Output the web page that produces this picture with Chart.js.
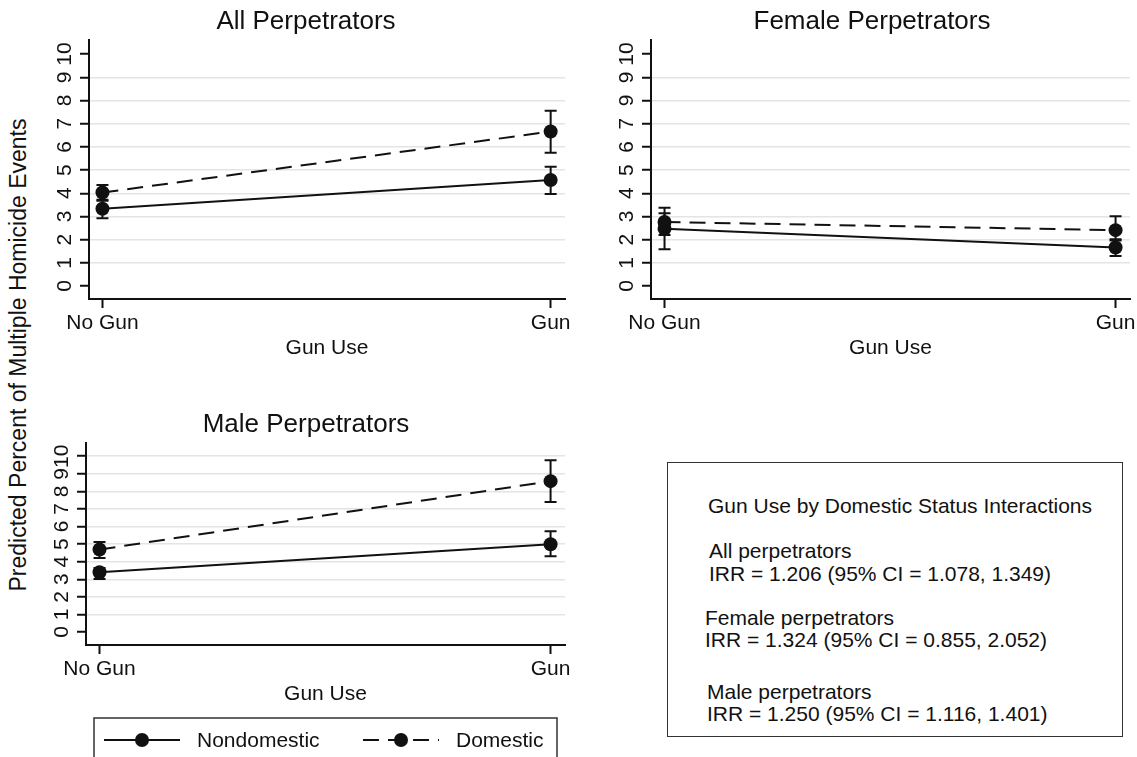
<!DOCTYPE html>
<html>
<head>
<meta charset="utf-8">
<script src="https://cdn.jsdelivr.net/npm/chart.js@4.4.1/dist/chart.umd.min.js"></script>
<style>
  html, body { margin: 0; padding: 0; background: #fff; }
  body { position: relative; width: 1137px; height: 757px; overflow: hidden;
         font-family: "Liberation Sans", Arial, Helvetica, sans-serif; color: #111; }
  canvas { position: absolute; }
  #ytitle { position: absolute; left: 18px; top: 355px; white-space: nowrap; font-size: 23px;
            transform: translate(-50%, -50%) rotate(-90deg); }
  #note { position: absolute; left: 667px; top: 462px; width: 456px; height: 275px;
          border: 1.5px solid #333; box-sizing: border-box; }
  #note div { position: absolute; white-space: nowrap; font-size: 21px; line-height: 24px; }
</style>
</head>
<body>
<canvas id="allChart" width="528" height="361" style="left:47px;top:0px"></canvas>
<canvas id="femaleChart" width="526" height="361" style="left:614px;top:0px"></canvas>
<canvas id="maleChart" width="528" height="360" style="left:47px;top:403px"></canvas>
<div id="ytitle">Predicted Percent of Multiple Homicide Events</div>
<div id="note">
  <div style="left:40px;top:31px">Gun Use by Domestic Status Interactions</div>
  <div style="left:41px;top:76px">All perpetrators</div>
  <div style="left:41px;top:99px">IRR = 1.206 (95% CI = 1.078, 1.349)</div>
  <div style="left:37px;top:143px">Female perpetrators</div>
  <div style="left:37px;top:165px">IRR = 1.324 (95% CI = 0.855, 2.052)</div>
  <div style="left:39px;top:217px">Male perpetrators</div>
  <div style="left:39px;top:239px">IRR = 1.250 (95% CI = 1.116, 1.401)</div>
</div>
<script>
const categories = ['No Gun', 'Gun'];
const yTickValues = [0, 1, 2, 3, 4, 5, 6, 7, 8, 9, 10];
const yTickLabels = ['0', '1', '2', '3', '4', '5', '6', '7', '8', '9', '10'];
const femaleTickLabels = ['0', '1', '2', '3', '4', '5', '6', '7', '9', '9', '10'];

// All perpetrators
const allNondomestic = [3.33, 4.57];
const allNondomesticLow = [2.92, 3.97];
const allNondomesticHigh = [3.72, 5.14];
const allDomestic = [4.03, 6.66];
const allDomesticLow = [3.68, 5.75];
const allDomesticHigh = [4.36, 7.56];

// Female perpetrators
const femaleNondomestic = [2.47, 1.66];
const femaleNondomesticLow = [1.59, 1.29];
const femaleNondomesticHigh = [3.14, 2.02];
const femaleDomestic = [2.76, 2.41];
const femaleDomesticLow = [2.2, 1.96];
const femaleDomesticHigh = [3.37, 3.01];

// Male perpetrators
const maleNondomestic = [3.40, 4.99];
const maleNondomesticLow = [3.02, 4.31];
const maleNondomesticHigh = [3.64, 5.73];
const maleDomestic = [4.69, 8.58];
const maleDomesticLow = [4.21, 7.40];
const maleDomesticHigh = [5.12, 9.77];

const FONT = "'Liberation Sans', Arial, Helvetica, sans-serif";
const INK = '#111';
Chart.defaults.font.family = FONT;
Chart.defaults.color = INK;

function series(label, vals, low, high, dash) {
  return {
    label: label,
    data: vals.map((v, i) => ({ x: i, y: v })),
    errLow: low,
    errHigh: high,
    borderColor: INK,
    borderWidth: 2,
    borderDash: dash,
    pointRadius: 7,
    pointHoverRadius: 7,
    pointBackgroundColor: INK,
    pointBorderWidth: 0,
    fill: false,
    tension: 0
  };
}

// vertical CI bars with caps
const errorBars = {
  id: 'errorBars',
  afterDatasetsDraw(chart) {
    const { ctx, scales: { x, y } } = chart;
    ctx.save();
    ctx.strokeStyle = INK;
    ctx.lineWidth = 2;
    ctx.setLineDash([]);
    chart.data.datasets.forEach(ds => {
      ds.errLow.forEach((lo, i) => {
        const px = x.getPixelForValue(i);
        const yl = y.getPixelForValue(lo);
        const yh = y.getPixelForValue(ds.errHigh[i]);
        ctx.beginPath();
        ctx.moveTo(px, yl); ctx.lineTo(px, yh);
        ctx.moveTo(px - 6, yl); ctx.lineTo(px + 6, yl);
        ctx.moveTo(px - 6, yh); ctx.lineTo(px + 6, yh);
        ctx.stroke();
      });
    });
    ctx.restore();
  }
};

// legend box under the male panel: line + marker + label
const seriesLegend = {
  id: 'seriesLegend',
  afterDraw(chart) {
    const { ctx, chartArea: a } = chart;
    const left = a.left + 8, right = a.right - 8, top = a.bottom + 73;
    const cy = top + 22;
    const starts = [left + 10, left + 269];
    ctx.save();
    ctx.strokeStyle = '#333';
    ctx.lineWidth = 1.5;
    ctx.strokeRect(left, top, right - left, 80);
    ctx.font = '21px ' + FONT;
    ctx.textBaseline = 'middle';
    ctx.fillStyle = INK;
    chart.data.datasets.forEach((ds, i) => {
      const x0 = starts[i];
      ctx.strokeStyle = INK;
      ctx.lineWidth = 2;
      ctx.setLineDash(ds.borderDash || []);
      ctx.beginPath();
      ctx.moveTo(x0, cy);
      ctx.lineTo(x0 + 76, cy);
      ctx.stroke();
      ctx.setLineDash([]);
      ctx.beginPath();
      ctx.arc(x0 + 38, cy, 7, 0, Math.PI * 2);
      ctx.fill();
      ctx.fillText(ds.label, x0 + 93, cy + 1);
    });
    ctx.restore();
  }
};

function panel(id, title, tickLabels, datasets, yMin, yMax, gridTop, yWidth, padBottom, extra) {
  return new Chart(document.getElementById(id), {
    type: 'line',
    data: { datasets: datasets },
    plugins: [errorBars].concat(extra),
    options: {
      responsive: false,
      animation: false,
      events: [],
      layout: { padding: { top: 0, right: 10, bottom: padBottom, left: 0 } },
      plugins: {
        legend: { display: false },
        tooltip: { enabled: false },
        title: {
          display: true, text: title, color: INK,
          font: { size: 26, weight: 'normal' },
          padding: { top: 6, bottom: 3 }
        }
      },
      scales: {
        x: {
          type: 'linear', min: -0.03, max: 1.032,
          afterBuildTicks: s => { s.ticks = categories.map((c, i) => ({ value: i })); },
          afterFit: s => { s.height = 62; s.paddingLeft = 0; s.paddingRight = 0; },
          ticks: {
            callback: v => categories[v], font: { size: 21 }, color: INK,
            padding: 3, autoSkip: false, minRotation: 0, maxRotation: 0
          },
          grid: { drawOnChartArea: false, tickColor: INK, tickLength: 9, tickWidth: 2 },
          border: { color: INK, width: 2 },
          title: { display: true, text: 'Gun Use', font: { size: 21 }, color: INK, padding: 0 }
        },
        y: {
          type: 'linear', min: yMin, max: yMax,
          afterBuildTicks: s => { s.ticks = yTickValues.map(v => ({ value: v })); },
          afterFit: s => { s.width = yWidth; s.paddingTop = 0; s.paddingBottom = 0; },
          ticks: {
            callback: (v, i) => tickLabels[i], font: { size: 21 }, color: INK,
            padding: 3, autoSkip: false, minRotation: 90, maxRotation: 90, crossAlign: 'center'
          },
          grid: {
            color: c => (c.tick && c.tick.value > 0 && c.tick.value <= gridTop) ? '#e4e4e4' : 'rgba(0,0,0,0)',
            lineWidth: 1.5, tickColor: INK, tickLength: 9, tickWidth: 2
          },
          border: { color: INK, width: 2 }
        }
      }
    }
  });
}

const dashed = [16, 9];

panel('allChart', 'All Perpetrators', yTickLabels, [
  series('Nondomestic', allNondomestic, allNondomesticLow, allNondomesticHigh, []),
  series('Domestic', allDomestic, allDomesticLow, allDomesticHigh, dashed)
], -0.56, 10.6, 9, 42, 0, []);

panel('femaleChart', 'Female Perpetrators', femaleTickLabels, [
  series('Nondomestic', femaleNondomestic, femaleNondomesticLow, femaleNondomesticHigh, []),
  series('Domestic', femaleDomestic, femaleDomesticLow, femaleDomesticHigh, dashed)
], -0.56, 10.6, 9, 37, 0, []);

panel('maleChart', 'Male Perpetrators', yTickLabels, [
  series('Nondomestic', maleNondomestic, maleNondomesticLow, maleNondomesticHigh, []),
  series('Domestic', maleDomestic, maleDomesticLow, maleDomesticHigh, dashed)
], -0.74, 10.74, 10, 39, 56, [seriesLegend]);
</script>
</body>
</html>
